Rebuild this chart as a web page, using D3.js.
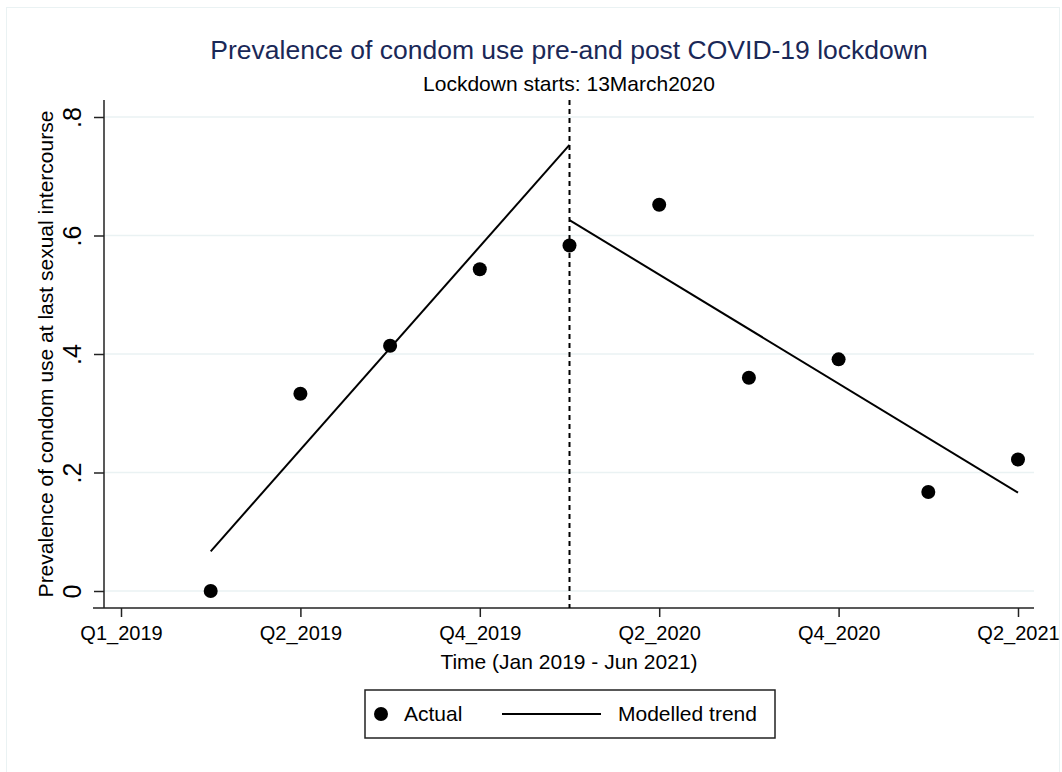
<!DOCTYPE html>
<html>
<head>
<meta charset="utf-8">
<script src="https://cdn.jsdelivr.net/npm/d3@7"></script>
<style>
  body { margin: 0; background: #fff; }
  svg { display: block; font-family: "Liberation Sans", Arial, sans-serif; }
</style>
</head>
<body>
<svg id="chart" width="1062" height="772"></svg>
<script>
// quarter index (0 = Q1_2019 ... 10 = Q2_2021)
const quarters = [1, 2, 3, 4, 5, 6, 7, 8, 9, 10];
const actual = [0, 0.333, 0.414, 0.543, 0.583, 0.652, 0.36, 0.391, 0.167, 0.222];
const trendPre = [{ x: 1, y: 0.067 }, { x: 5, y: 0.753 }];
const trendPost = [{ x: 5, y: 0.626 }, { x: 10, y: 0.166 }];
const lockdownAt = 5;
const xTicks = [0, 2, 4, 6, 8, 10];
const xTickLabels = ["Q1_2019", "Q2_2019", "Q4_2019", "Q2_2020", "Q4_2020", "Q2_2021"];
const yTicks = [0, 0.2, 0.4, 0.6, 0.8];

const svg = d3.select("#chart");
const width = 1062,
  height = 772;
const margin = { left: 104, right: 28, top: 100, bottom: 164 };
const font = "'Liberation Sans', Arial, sans-serif";

// outer frame
svg.append("rect")
  .attr("x", 6.5).attr("y", 7.5)
  .attr("width", 1053).attr("height", 780)
  .attr("fill", "#fff")
  .attr("stroke", "#eaf2f3").attr("stroke-width", 1);

const x = d3.scaleLinear().domain([0, 10]).range([121, 1018]);
const y = d3.scaleLinear().domain([0, 0.8]).range([591, 117]);
const plotRight = width - margin.right;
const plotBottom = height - margin.bottom;

// gridlines
svg.append("g")
  .selectAll("line")
  .data(yTicks)
  .join("line")
  .attr("x1", margin.left).attr("x2", plotRight)
  .attr("y1", (d) => y(d)).attr("y2", (d) => y(d))
  .attr("stroke", "#eaf2f3").attr("stroke-width", 1.5);

// y axis
const yAxis = d3.axisLeft(y)
  .tickValues(yTicks)
  .tickSize(10)
  .tickFormat((d) => (d === 0 ? "0" : d3.format(".1f")(d).replace(/^0/, "")));
svg.append("g")
  .attr("transform", `translate(${margin.left},0)`)
  .attr("font-family", font)
  .call(yAxis)
  .call((g) => {
    g.select(".domain").attr("d", `M0,${margin.top}V${plotBottom}`).attr("stroke", "#222").attr("stroke-width", 1.5);
    g.selectAll(".tick line").attr("stroke", "#222").attr("stroke-width", 1.5);
    g.selectAll(".tick text")
      .attr("font-size", 25)
      .attr("fill", "#000")
      .attr("text-anchor", "middle")
      .attr("transform", `translate(-32,0) rotate(-90)`)
      .attr("x", 0).attr("dy", "0.35em");
  });

// x axis
const xAxis = d3.axisBottom(x)
  .tickValues(xTicks)
  .tickSize(9)
  .tickFormat((d, i) => xTickLabels[i]);
svg.append("g")
  .attr("transform", `translate(0,${plotBottom})`)
  .attr("font-family", font)
  .call(xAxis)
  .call((g) => {
    g.select(".domain").attr("d", `M${margin.left - 11},0H${plotRight}`).attr("stroke", "#222").attr("stroke-width", 1.5);
    g.selectAll(".tick line").attr("stroke", "#222").attr("stroke-width", 1.5);
    g.selectAll(".tick text")
      .attr("font-size", 20)
      .attr("fill", "#000")
      .attr("y", 18)
      .attr("dy", "0.71em");
  });

// lockdown line
svg.append("line")
  .attr("x1", x(lockdownAt)).attr("x2", x(lockdownAt))
  .attr("y1", margin.top).attr("y2", plotBottom)
  .attr("stroke", "#000").attr("stroke-width", 2)
  .attr("stroke-dasharray", "5,4");

// trend lines
const line = d3.line().x((d) => x(d.x)).y((d) => y(d.y));
svg.append("g")
  .selectAll("path")
  .data([trendPre, trendPost])
  .join("path")
  .attr("d", line)
  .attr("fill", "none")
  .attr("stroke", "#000")
  .attr("stroke-width", 2);

// actual points
svg.append("g")
  .selectAll("circle")
  .data(quarters)
  .join("circle")
  .attr("cx", (d) => x(d))
  .attr("cy", (d, i) => y(actual[i]))
  .attr("r", 7)
  .attr("fill", "#000");

// titles
svg.append("text")
  .attr("x", 569).attr("y", 59)
  .attr("text-anchor", "middle")
  .attr("font-size", 26.5)
  .attr("fill", "#1a2857")
  .text("Prevalence of condom use pre-and post COVID-19 lockdown");
svg.append("text")
  .attr("x", 569).attr("y", 91)
  .attr("text-anchor", "middle")
  .attr("font-size", 21)
  .attr("fill", "#000")
  .text("Lockdown starts: 13March2020");
svg.append("text")
  .attr("x", 569).attr("y", 669)
  .attr("text-anchor", "middle")
  .attr("font-size", 21)
  .attr("fill", "#000")
  .text("Time (Jan 2019 - Jun 2021)");
svg.append("text")
  .attr("transform", `translate(53,${(margin.top + plotBottom) / 2}) rotate(-90)`)
  .attr("text-anchor", "middle")
  .attr("font-size", 21)
  .attr("fill", "#000")
  .text("Prevalence of condom use at last sexual intercourse");

// legend
const legend = svg.append("g").attr("transform", "translate(365,690)");
legend.append("rect")
  .attr("width", 410).attr("height", 48)
  .attr("fill", "#fff").attr("stroke", "#222").attr("stroke-width", 1.5);
legend.append("circle").attr("cx", 16).attr("cy", 24).attr("r", 7).attr("fill", "#000");
legend.append("text").attr("x", 39).attr("y", 31).attr("font-size", 21).text("Actual");
legend.append("line")
  .attr("x1", 137).attr("x2", 236).attr("y1", 24).attr("y2", 24)
  .attr("stroke", "#000").attr("stroke-width", 2);
legend.append("text").attr("x", 253).attr("y", 31).attr("font-size", 21).text("Modelled trend");
</script>
</body>
</html>
